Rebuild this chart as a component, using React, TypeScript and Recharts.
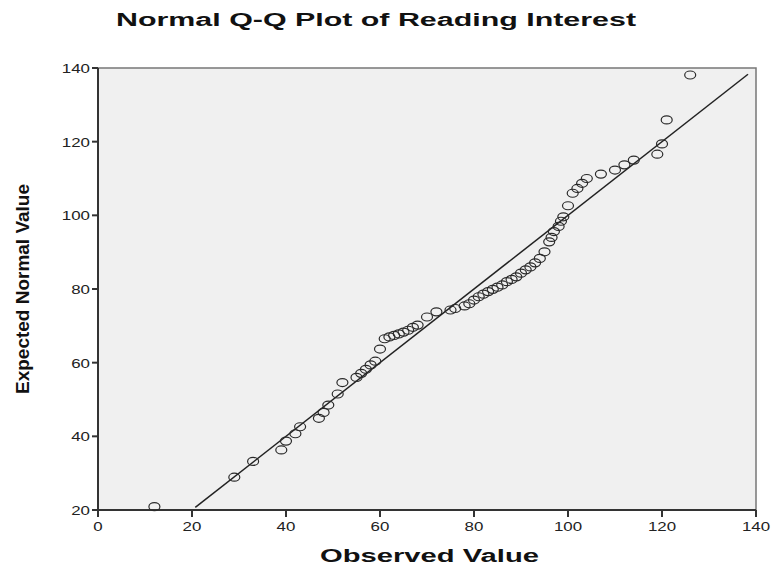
import React from "react";
import {
  ScatterChart,
  Scatter,
  XAxis,
  YAxis,
  ReferenceArea,
  ReferenceLine,
  Label,
} from "recharts";

const observed = [
  12, 29, 33, 39, 40, 42, 43, 47, 48, 49, 51, 52, 55, 56, 57, 58, 59, 60, 61,
  62, 63, 64, 65, 66, 67, 68, 70, 72, 75, 76, 78, 79, 80, 81, 82, 83, 84, 85,
  86, 87, 88, 89, 90, 91, 92, 93, 94, 95, 96, 96.5, 97, 98, 98.5, 99, 100, 101,
  102, 103, 104, 107, 110, 112, 114, 119, 120, 121, 126,
];
const expected = [
  20.9, 28.9, 33.2, 36.3, 38.7, 40.7, 42.6, 44.9, 46.5, 48.5, 51.5, 54.6, 56.0,
  57.1, 58.2, 59.4, 60.4, 63.7, 66.5, 67.0, 67.4, 67.8, 68.3, 68.8, 69.6, 70.2,
  72.4, 73.8, 74.3, 74.7, 75.4, 76.0, 77.0, 77.9, 78.6, 79.3, 79.9, 80.5, 81.1,
  82.0, 82.6, 83.3, 84.3, 85.2, 86.0, 87.1, 88.3, 90.1, 92.8, 94.0, 95.6, 97.0,
  98.4, 99.6, 102.6, 106.0, 107.3, 108.7, 110.0, 111.2, 112.3, 113.7, 115.0,
  116.6, 119.4, 125.9, 138.1,
];

const xTicks = [0, 20, 40, 60, 80, 100, 120, 140];
const yTicks = [20, 40, 60, 80, 100, 120, 140];
const lineEnds = [20.7, 138.3];

const FONT = "'Liberation Sans', Arial, sans-serif";

const points = observed.map((x, i) => ({ x, y: expected[i] }));

const Ring = (props: any) => {
  const { cx, cy } = props;
  return (
    <ellipse
      cx={cx}
      cy={cy}
      rx={5.5}
      ry={4}
      fill="none"
      stroke="#2a2a2a"
      strokeWidth={1.2}
    />
  );
};

const XTick = ({ x, y, payload }: any) => (
  <text
    transform={`translate(${x},${y + 12}) scale(1.3,1)`}
    textAnchor="middle"
    fontFamily={FONT}
    fontSize={13}
    fill="#222"
  >
    {payload.value}
  </text>
);

const YTick = ({ x, y, payload }: any) => (
  <text
    transform={`translate(${x},${y + 5}) scale(1.3,1)`}
    textAnchor="end"
    fontFamily={FONT}
    fontSize={13}
    fill="#222"
  >
    {payload.value}
  </text>
);

const Titles = () => (
  <g fontFamily={FONT} fontWeight="bold" fill="#111">
    <text x={116} y={26} fontSize={18} textLength={520} lengthAdjust="spacingAndGlyphs">
      Normal Q-Q Plot of Reading Interest
    </text>
    <text x={320} y={562} fontSize={18} textLength={219} lengthAdjust="spacingAndGlyphs">
      Observed Value
    </text>
  </g>
);

const YTitle = () => (
  <text
    transform="translate(29,289) rotate(-90)"
    textAnchor="middle"
    fontFamily={FONT}
    fontWeight="bold"
    fontSize={18}
    fill="#111"
    textLength={210}
    lengthAdjust="spacingAndGlyphs"
  >
    Expected Normal Value
  </text>
);

export default function App() {
  return (
    <div style={{ position: "absolute", left: 0, top: 0, background: "#fff" }}>
      <ScatterChart
        width={778}
        height={570}
        margin={{ top: 68, right: 22, bottom: 20, left: 38 }}
      >
        <ReferenceArea
          x1={0}
          x2={140}
          y1={20}
          y2={140}
          fill="#f0f0f0"
          fillOpacity={1}
          stroke="#777"
          strokeWidth={1.5}
        />
        <XAxis
          type="number"
          dataKey="x"
          domain={[0, 140]}
          ticks={xTicks}
          interval={0}
          height={40}
          tickSize={7}
          axisLine={{ stroke: "#333", strokeWidth: 2 }}
          tickLine={{ stroke: "#333", strokeWidth: 2 }}
          tick={<XTick />}
        >
          <Label content={<Titles />} />
        </XAxis>
        <YAxis
          type="number"
          dataKey="y"
          domain={[20, 140]}
          ticks={yTicks}
          interval={0}
          width={60}
          tickSize={6}
          axisLine={{ stroke: "#333", strokeWidth: 2 }}
          tickLine={{ stroke: "#333", strokeWidth: 2 }}
          tick={<YTick />}
        >
          <Label content={<YTitle />} />
        </YAxis>
        <ReferenceLine
          segment={[
            { x: lineEnds[0], y: lineEnds[0] },
            { x: lineEnds[1], y: lineEnds[1] },
          ]}
          stroke="#222"
          strokeWidth={1.5}
        />
        <Scatter data={points} shape={<Ring />} isAnimationActive={false} />
      </ScatterChart>
    </div>
  );
}
